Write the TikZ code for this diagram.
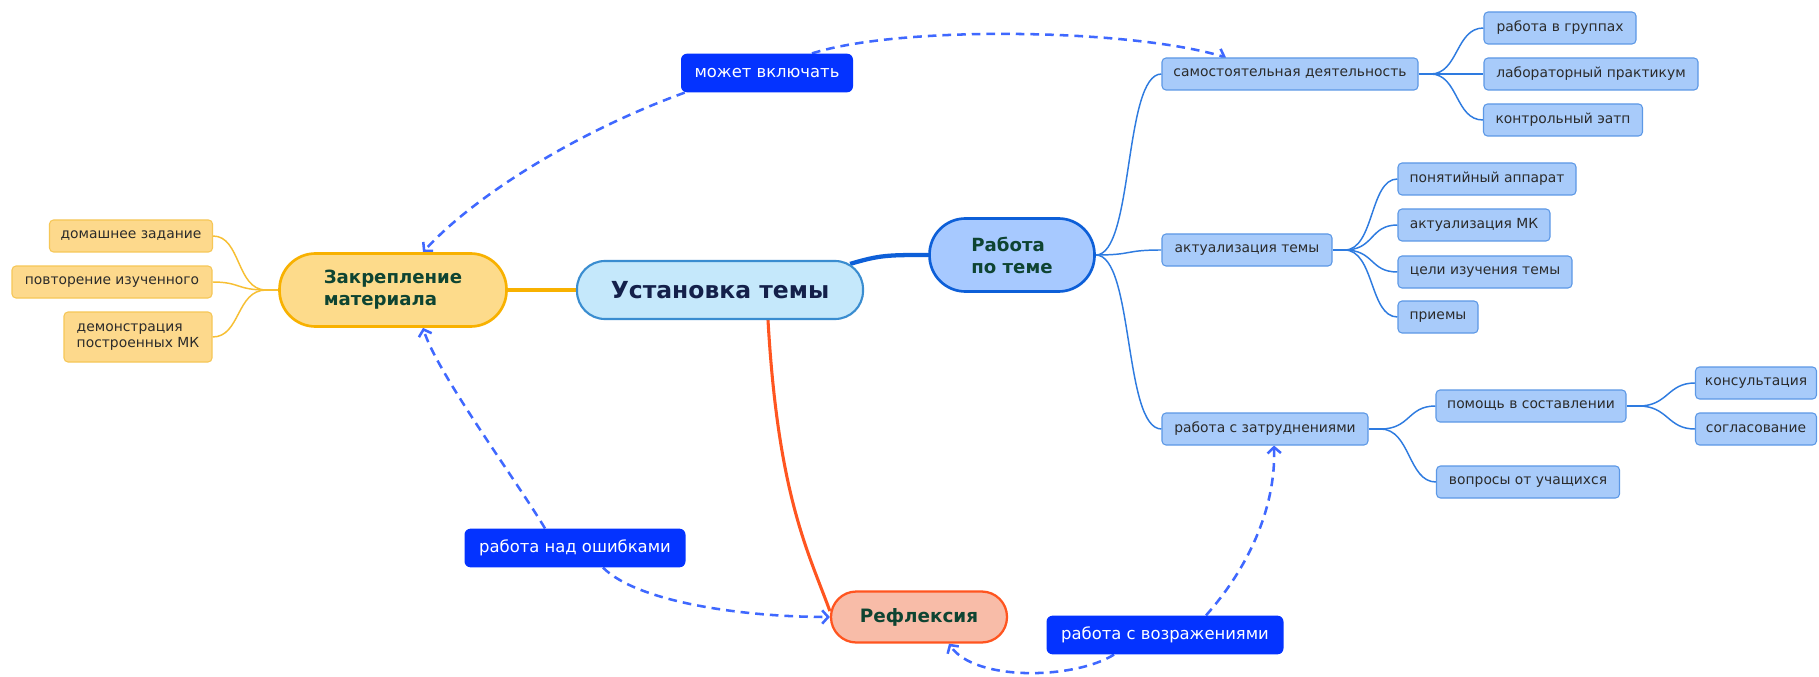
\documentclass[tikz,border=0pt]{standalone}
\usepackage{fontspec}
\setmainfont{DejaVu Sans}
\usetikzlibrary{arrows.meta,calc}
\pgfdeclarelayer{paper}
\pgfdeclarelayer{bg}
\pgfdeclarelayer{links}
\pgfsetlayers{paper,bg,links,main}

\definecolor{rootFill}{HTML}{C5E8FB}
\definecolor{rootLine}{HTML}{3A8DD0}
\definecolor{rootText}{HTML}{14204A}
\definecolor{workFill}{HTML}{A7C9FF}
\definecolor{workLine}{HTML}{0D5FD8}
\definecolor{zakFill}{HTML}{FDDB8B}
\definecolor{zakLine}{HTML}{F8B100}
\definecolor{refFill}{HTML}{F8BCA8}
\definecolor{refLine}{HTML}{FF5520}
\definecolor{hubText}{HTML}{0E4432}
\definecolor{leafBFill}{HTML}{A8CBFA}
\definecolor{leafBLine}{HTML}{5C98E6}
\definecolor{leafOFill}{HTML}{FDD98C}
\definecolor{leafOLine}{HTML}{F6C757}
\definecolor{leafText}{HTML}{2B2B2B}
\definecolor{branchB}{HTML}{2E7BE0}
\definecolor{branchO}{HTML}{F7BF33}
\definecolor{tagFill}{HTML}{0433FF}
\definecolor{dashBlue}{HTML}{3F68FF}

\begin{document}
\begin{tikzpicture}[x=0.75pt,y=-0.75pt,
  wd/.style={minimum width=#1*0.75pt},
  hd/.style={minimum height=#1*0.75pt},
  leaf/.style={inner sep=0pt, line width=0.8pt, rounded corners=3pt,
    text=leafText, font=\fontsize{10.4}{12.6}\selectfont, minimum height=24pt},
  leafB/.style={leaf, draw=leafBLine, fill=leafBFill},
  leafO/.style={leaf, draw=leafOLine, fill=leafOFill},
  hub/.style={inner sep=0pt, text=hubText, align=left,
    font=\fontsize{13.6}{16.5}\selectfont\bfseries},
  tag/.style={inner sep=0pt, fill=tagFill, rounded corners=4.5pt, text=white,
    font=\fontsize{12.3}{14}\selectfont, minimum height=29pt},
  thinB/.style={draw=branchB, line width=1.1pt},
  thinO/.style={draw=branchO, line width=1.1pt},
  dlink/.style={draw=dashBlue, line width=1.9pt, dash pattern=on 6.5pt off 4.5pt,
    -{Straight Barb[length=4.5pt,width=10pt]}}
]
\begin{pgfonlayer}{paper}
  \fill[white] (0,0) rectangle (1819,677);
\end{pgfonlayer}
\useasboundingbox (0,0) rectangle (1819,677);

% central topic and main branches
\node[draw=rootLine, fill=rootFill, line width=1.6pt, rounded corners=21pt,
  inner sep=0pt, wd=286, hd=58, text=rootText,
  font=\fontsize{17.6}{20}\selectfont\bfseries] (root) at (720,290) {Установка темы};
\node[hub, draw=workLine, fill=workFill, line width=2pt, rounded corners=27pt,
  wd=165, hd=73] (work) at (1012,255) {Работа\\по теме};
\node[hub, draw=zakLine, fill=zakFill, line width=2pt, rounded corners=27pt,
  wd=227, hd=73] (zak) at (393,290) {Закрепление\\материала};
\node[hub, draw=refLine, fill=refFill, line width=1.7pt, rounded corners=19pt,
  wd=176, hd=51, font=\fontsize{13.8}{16}\selectfont\bfseries] (ref) at (919,617) {Рефлексия};

% relation labels
\node[tag, wd=172] (tagA) at (767,73) {может включать};
\node[tag, wd=221] (tagB) at (575,548) {работа над ошибками};
\node[tag, wd=237] (tagC) at (1165,635) {работа с возражениями};

% left leaves
\node[leafO, wd=163] (hw) at (131,236) {домашнее задание};
\node[leafO, wd=200] (rep) at (112,282) {повторение изученного};
\node[leafO, wd=148, hd=50, align=left] (demo) at (138,337) {демонстрация\\построенных МК};

% right leaves
\node[leafB, wd=256] (samo) at (1290,74) {самостоятельная деятельность};
\node[leafB, wd=152] (grp) at (1560,28) {работа в группах};
\node[leafB, wd=214] (lab) at (1591,74) {лабораторный практикум};
\node[leafB, wd=159] (ctrl) at (1563,120) {контрольный эатп};
\node[leafB, wd=170] (act) at (1247,250) {актуализация темы};
\node[leafB, wd=178] (conc) at (1487,179) {понятийный аппарат};
\node[leafB, wd=152] (actmk) at (1474,225) {актуализация МК};
\node[leafB, wd=174] (goals) at (1485,272) {цели изучения темы};
\node[leafB, wd=80] (tech) at (1438,317) {приемы};
\node[leafB, wd=206] (diff) at (1265,429) {работа с затруднениями};
\node[leafB, wd=190] (help) at (1531,406) {помощь в составлении};
\node[leafB, wd=183] (quest) at (1528,482) {вопросы от учащихся};
\node[leafB, wd=121] (cons) at (1756,383) {консультация};
\node[leafB, wd=121] (agree) at (1756,429) {согласование};

% solid branches
\begin{pgfonlayer}{bg}
  \draw[workLine, line width=3.2pt]
    ($(root.north east)+(-14,4)$) .. controls +(30,-9) and +(-40,0) .. (work.west);
  \draw[zakLine, line width=3.2pt] (root.west) -- (zak.east);
  \draw[refLine, line width=2.3pt]
    ($(root.south)+(48,0)$) .. controls +(10,175) and +(-22,-60) .. ($(ref.west)+(0,-6)$);

  \foreach \c in {samo,act,diff}
    \draw[thinB] (work.east) .. controls +(38,0) and +(-38,0) .. (\c.west);

  \coordinate (samoFan) at ($(samo.east)+(12,0)$);
  \draw[thinB] (samo.east) -- (samoFan);
  \foreach \c in {grp,lab,ctrl}
    \draw[thinB] (samoFan) .. controls +(28,0) and +(-28,0) .. (\c.west);

  \coordinate (actFan) at ($(act.east)+(12,0)$);
  \draw[thinB] (act.east) -- (actFan);
  \foreach \c in {conc,actmk,goals,tech}
    \draw[thinB] (actFan) .. controls +(30,0) and +(-28,0) .. (\c.west);

  \coordinate (diffFan) at ($(diff.east)+(12,0)$);
  \draw[thinB] (diff.east) -- (diffFan);
  \foreach \c in {help,quest}
    \draw[thinB] (diffFan) .. controls +(30,0) and +(-28,0) .. (\c.west);

  \coordinate (helpFan) at ($(help.east)+(12,0)$);
  \draw[thinB] (help.east) -- (helpFan);
  \foreach \c in {cons,agree}
    \draw[thinB] (helpFan) .. controls +(30,0) and +(-28,0) .. (\c.west);

  \coordinate (zakFan) at ($(zak.west)+(-12,0)$);
  \draw[thinO] (zak.west) -- (zakFan);
  \foreach \c in {hw,rep,demo}
    \draw[thinO] (zakFan) .. controls +(-30,0) and +(28,0) .. (\c.east);
\end{pgfonlayer}

% dashed relations
\begin{pgfonlayer}{links}
  \draw[dlink] ($(tagA.south west)+(4,0)$) .. controls +(-110,40) and +(50,-55) .. ($(zak.north)+(30,0)$);
  \draw[dlink] ($(tagA.north)+(45,0)$) .. controls +(88,-28) and +(-96,-29) .. ($(samo.north)+(-64,0)$);
  \draw[dlink] ($(tagB.north)+(-30,0)$) .. controls +(-30,-50) and +(14,45) .. ($(zak.south)+(30,0)$);
  \draw[dlink] ($(tagB.south)+(28,0)$) .. controls +(35,35) and +(-85,0) .. (ref.west);
  \draw[dlink] ($(tagC.south)+(-51,0)$) .. controls +(-40,25) and +(25,38) .. ($(ref.south)+(30,0)$);
  \draw[dlink] ($(tagC.north)+(41,0)$) .. controls +(40,-45) and +(2,65) .. ($(diff.south)+(9,0)$);
\end{pgfonlayer}
\end{tikzpicture}
\end{document}
